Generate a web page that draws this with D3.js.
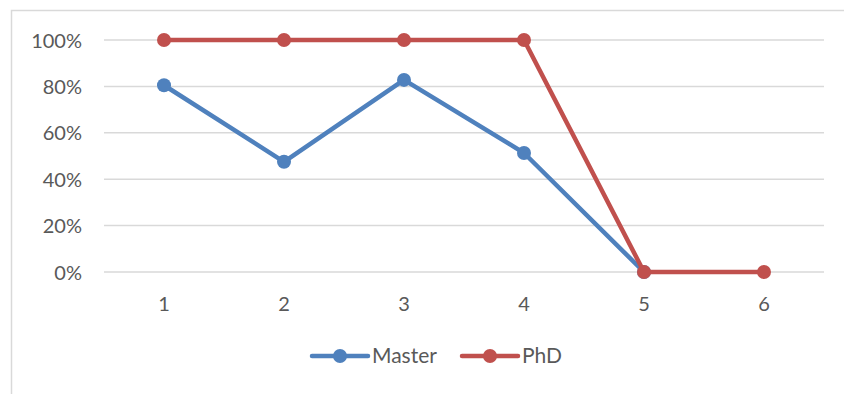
<!DOCTYPE html>
<html>
<head>
<meta charset="utf-8">
<script src="https://cdn.jsdelivr.net/npm/d3@7"></script>
<style>
  body { margin: 0; background: #fff; }
  svg text { font-family: Lato, "Open Sans", sans-serif; fill: #595959; }
</style>
</head>
<body>
<div id="chart"></div>
<script>
// 類別和數值
const categories = ["1", "2", "3", "4", "5", "6"]
const master = [0.805, 0.475, 0.828, 0.513, 0, null]
const phd = [1, 1, 1, 1, 0, 0]
const yTicks = [0, 0.2, 0.4, 0.6, 0.8, 1]
const seriesNames = ["Master", "PhD"]
const seriesColors = ["#4F81BD", "#C0504D"]

let svg = d3.select("#chart")
    .append("svg")
    .attr("width", 844)
    .attr("height", 394)

// 外框 (右下被裁掉)
svg.append("rect")
    .attr("x", 11.5).attr("y", 10.5)
    .attr("width", 900).attr("height", 500)
    .attr("fill", "none")
    .attr("stroke", "#d9d9d9")
    .attr("stroke-width", 1.5)

let xScale = d3.scaleBand()
    .domain(categories)
    .range([104, 824])
let yScale = d3.scaleLinear()
    .domain([0, 1])
    .range([272, 40])

// 格線
svg.append("g")
    .selectAll("line")
    .data(yTicks)
    .enter()
    .append("line")
    .attr("x1", 104).attr("x2", 824)
    .attr("y1", d => yScale(d)).attr("y2", d => yScale(d))
    .attr("stroke", "#d9d9d9")
    .attr("stroke-width", 1.5)

// y軸
let yAxis = svg.append("g")
    .attr("transform", "translate(85,0)")
    .call(d3.axisLeft(yScale).tickValues(yTicks).tickFormat(d3.format(".0%")).tickSize(0))
yAxis.select(".domain").remove()
yAxis.selectAll("text").attr("font-size", 20).attr("dy", "0.35em")

// x軸
let xAxis = svg.append("g")
    .attr("transform", "translate(0,293)")
    .call(d3.axisBottom(xScale).tickSize(0))
xAxis.select(".domain").remove()
xAxis.selectAll("text").attr("font-size", 20).attr("dy", "0.75em")

let cx = d => xScale(d) + xScale.bandwidth() / 2
let allSeries = [master, phd]

allSeries.forEach((vals, i) => {
    let pts = vals.map((v, j) => ({ c: categories[j], v: v })).filter(d => d.v !== null)
    let line = d3.line()
        .x(d => cx(d.c))
        .y(d => yScale(d.v))
    svg.append("path")
        .datum(pts)
        .attr("d", line)
        .attr("fill", "none")
        .attr("stroke", seriesColors[i])
        .attr("stroke-width", 4.5)
        .attr("stroke-linejoin", "round")
        .attr("stroke-linecap", "round")
    svg.append("g")
        .selectAll("circle")
        .data(pts)
        .enter()
        .append("circle")
        .attr("cx", d => cx(d.c))
        .attr("cy", d => yScale(d.v))
        .attr("r", 7)
        .attr("fill", seriesColors[i])
})

// 圖例
let legendX = [312, 462]
seriesNames.forEach((name, i) => {
    let g = svg.append("g").attr("transform", `translate(${legendX[i]},356)`)
    g.append("line")
        .attr("x1", 0).attr("x2", 56)
        .attr("stroke", seriesColors[i])
        .attr("stroke-width", 4.5)
        .attr("stroke-linecap", "round")
    g.append("circle").attr("cx", 28).attr("r", 7).attr("fill", seriesColors[i])
    g.append("text")
        .attr("x", 60)
        .attr("dy", "0.35em")
        .attr("font-size", 21)
        .text(name)
})
</script>
</body>
</html>
